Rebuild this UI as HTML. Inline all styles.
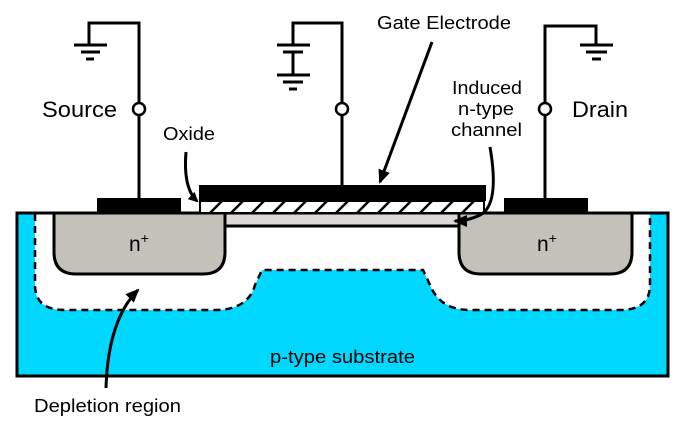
<!DOCTYPE html>
<html><head><style>
html,body{margin:0;padding:0;background:#fff;}
svg{display:block;}
text{font-family:"Liberation Sans",Arial,sans-serif;fill:#000;}
</style></head><body>
<svg width="687" height="425" viewBox="0 0 687 425" xmlns="http://www.w3.org/2000/svg">
<defs>
<marker id="ah" markerWidth="10" markerHeight="10" refX="8" refY="5" orient="auto" markerUnits="userSpaceOnUse" viewBox="0 0 10 10">
<path d="M0,0 L10,5 L0,10 z" fill="#000"/>
</marker>
<marker id="ah2" markerWidth="14" markerHeight="12" refX="12" refY="6" orient="auto" markerUnits="userSpaceOnUse" viewBox="0 0 14 12">
<path d="M0,0 L14,6 L0,12 z" fill="#000"/>
</marker>
<clipPath id="ox"><rect x="200" y="201" width="284" height="12"/></clipPath>
</defs>
<rect x="17" y="213" width="651" height="163" fill="#00d8ff" stroke="#000" stroke-width="3"/>
<path d="M35,214 L35,285 Q35,310 65,310 L215,310 Q248,310 255,285 L262,270 L423,270 L430,285 Q440,310 470,310 L620,310 Q650,310 650,285 L650,214 Z" fill="#fff"/>
<path d="M35,214 L35,285 Q35,310 65,310 L215,310 Q248,310 255,285 L262,270 L423,270 L430,285 Q440,310 470,310 L620,310 Q650,310 650,285 L650,214" fill="none" stroke="#000" stroke-width="2.5" stroke-dasharray="7,5"/>
<path d="M54,213 L54,252 Q54,274 76,274 L203,274 Q225,274 225,252 L225,213 Z" fill="#c4c1bb" stroke="#000" stroke-width="3"/>
<path d="M459,213 L459,252 Q459,274 481,274 L610,274 Q632,274 632,252 L632,213 Z" fill="#c4c1bb" stroke="#000" stroke-width="3"/>
<rect x="225" y="213" width="234" height="13" fill="#dddad6" stroke="#000" stroke-width="3"/>
<line x1="16" y1="213" x2="668" y2="213" stroke="#000" stroke-width="3"/>
<rect x="200" y="201" width="284" height="12" fill="#fff" stroke="#000" stroke-width="2"/>
<g clip-path="url(#ox)" stroke="#000" stroke-width="2.5">
<line x1="210" y1="213" x2="222" y2="201"/><line x1="231" y1="213" x2="243" y2="201"/><line x1="252" y1="213" x2="264" y2="201"/><line x1="273" y1="213" x2="285" y2="201"/><line x1="294" y1="213" x2="306" y2="201"/><line x1="315" y1="213" x2="327" y2="201"/><line x1="336" y1="213" x2="348" y2="201"/><line x1="357" y1="213" x2="369" y2="201"/><line x1="378" y1="213" x2="390" y2="201"/><line x1="399" y1="213" x2="411" y2="201"/><line x1="420" y1="213" x2="432" y2="201"/><line x1="441" y1="213" x2="453" y2="201"/><line x1="462" y1="213" x2="474" y2="201"/>
</g>
<rect x="199" y="185" width="287" height="16" fill="#000"/>
<rect x="97" y="198" width="84" height="15" fill="#000"/>
<rect x="504" y="198" width="84" height="15" fill="#000"/>
<g stroke="#000" stroke-width="3" fill="none">
<polyline points="139,198 139,23 89,23 89,45"/>
<line x1="74" y1="45" x2="107" y2="45"/><line x1="81" y1="52" x2="100" y2="52"/><line x1="86" y1="59" x2="94" y2="59"/>
<polyline points="342,185 342,23 293,23 293,45"/>
<line x1="277" y1="45" x2="310" y2="45"/><line x1="283" y1="52" x2="303" y2="52"/><line x1="293" y1="52" x2="293" y2="75"/>
<line x1="277" y1="75" x2="310" y2="75"/><line x1="283" y1="82" x2="303" y2="82"/><line x1="289" y1="89" x2="297" y2="89"/>
<polyline points="545,198 545,26 596,26 596,45"/>
<line x1="580" y1="45" x2="613" y2="45"/><line x1="586" y1="52" x2="607" y2="52"/><line x1="592" y1="59" x2="601" y2="59"/>
</g>
<g fill="#fff" stroke="#000" stroke-width="2.5">
<circle cx="139" cy="109" r="6"/><circle cx="342" cy="109" r="6"/><circle cx="545" cy="109" r="6"/>
</g>
<g stroke="#000" stroke-width="3" fill="none">
<path d="M186,152 Q183,188 197,201" marker-end="url(#ah)"/>
<path d="M432,42 L380,182" marker-end="url(#ah2)"/>
<path d="M490,147 Q500,205 480,215 Q468,221 455,221" marker-end="url(#ah2)"/>
<path d="M106,388 Q108,320 138,290" marker-end="url(#ah2)"/>
</g>
<text x="42" y="117" font-size="22" textLength="75" lengthAdjust="spacingAndGlyphs">Source</text>
<text x="572" y="117" font-size="22" textLength="56" lengthAdjust="spacingAndGlyphs">Drain</text>
<text x="163" y="140" font-size="18" textLength="52" lengthAdjust="spacingAndGlyphs">Oxide</text>
<text x="377" y="29" font-size="18" textLength="134" lengthAdjust="spacingAndGlyphs">Gate Electrode</text>
<text x="452" y="94" font-size="18" textLength="70" lengthAdjust="spacingAndGlyphs">Induced</text>
<text x="458" y="115" font-size="18" textLength="56" lengthAdjust="spacingAndGlyphs">n-type</text>
<text x="451" y="136" font-size="18" textLength="71" lengthAdjust="spacingAndGlyphs">channel</text>
<text x="129" y="251" font-size="21">n<tspan font-size="14" dy="-8">+</tspan></text>
<text x="537" y="251" font-size="21">n<tspan font-size="14" dy="-8">+</tspan></text>
<text x="270" y="363" font-size="18" textLength="145" lengthAdjust="spacingAndGlyphs">p-type substrate</text>
<text x="34" y="412" font-size="18" textLength="147" lengthAdjust="spacingAndGlyphs">Depletion region</text>
</svg>
</body></html>
